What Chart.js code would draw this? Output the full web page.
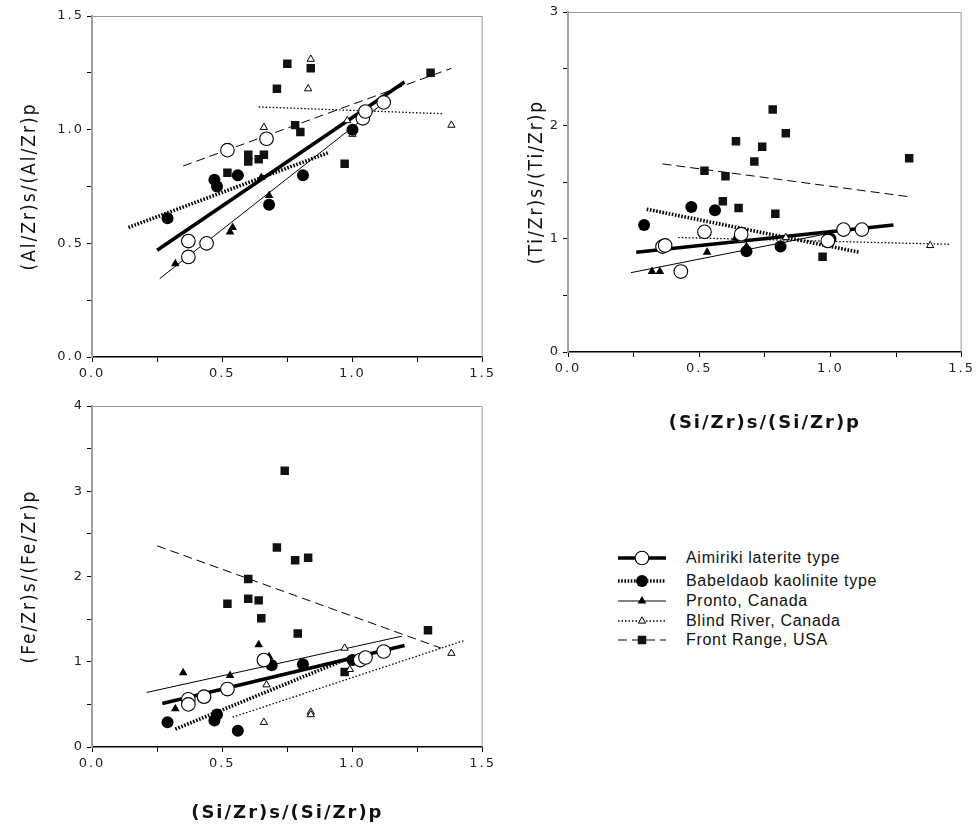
<!DOCTYPE html>
<html>
<head>
<meta charset="utf-8">
<script src="https://cdn.jsdelivr.net/npm/chart.js@4"></script>
<style>
  body { margin: 0; background: #fff; }
  #wrap { position: relative; width: 979px; height: 831px; overflow: hidden; }
  #wrap canvas { position: absolute; }
  #legend { position: absolute; left: 616px; top: 548px; font-family: "Liberation Sans", Arial, sans-serif;
            font-size: 16px; letter-spacing: 0.7px; color: #111; }
  #legend .row { position: absolute; left: 0; height: 20px; width: 300px; white-space: nowrap; }
  #legend svg { position: absolute; left: 0; top: 0; }
  #legend span { position: absolute; left: 70px; top: 1px; }
</style>
</head>
<body>
<div id="wrap">
  <canvas id="alChart" width="500" height="390" style="left:0;top:0"></canvas>
  <canvas id="tiChart" width="489" height="440" style="left:490px;top:0"></canvas>
  <canvas id="feChart" width="500" height="436" style="left:0;top:395px"></canvas>
  <div id="legend"></div>
</div>
<script>
// series, in legend order
const seriesNames = ["Aimiriki laterite type", "Babeldaob kaolinite type", "Pronto, Canada", "Blind River, Canada", "Front Range, USA"];

// (Al/Zr)s/(Al/Zr)p against (Si/Zr)s/(Si/Zr)p
const alAimiriki = [[0.52, 0.91], [0.67, 0.96], [0.37, 0.51], [0.44, 0.50], [0.37, 0.44], [1.04, 1.05], [1.05, 1.08], [1.12, 1.12]];
const alBabeldaob = [[0.29, 0.61], [0.47, 0.78], [0.48, 0.75], [0.56, 0.80], [0.68, 0.67], [0.81, 0.80], [1.00, 1.00]];
const alPronto = [[0.32, 0.41], [0.36, 0.44], [0.53, 0.55], [0.54, 0.57], [0.65, 0.79], [0.68, 0.71]];
const alBlind = [[0.84, 1.31], [0.83, 1.18], [0.66, 1.01], [0.98, 1.04], [1.00, 0.98], [1.38, 1.02]];
const alFront = [[0.75, 1.29], [0.84, 1.27], [0.71, 1.18], [0.78, 1.02], [0.80, 0.99], [0.60, 0.89], [0.60, 0.86],
                 [0.64, 0.87], [0.66, 0.89], [0.52, 0.81], [0.97, 0.85], [1.30, 1.25]];
// regression lines: [x0, y0, x1, y1] per series
const alFits = [[0.25, 0.47, 1.20, 1.21], [0.14, 0.57, 0.91, 0.90], [0.26, 0.345, 1.10, 1.10], [0.64, 1.10, 1.35, 1.07], [0.35, 0.84, 1.38, 1.27]];

// (Ti/Zr)s/(Ti/Zr)p
const tiAimiriki = [[0.36, 0.93], [0.37, 0.94], [0.43, 0.71], [0.52, 1.06], [0.66, 1.04], [0.99, 0.98], [1.05, 1.08], [1.12, 1.08]];
const tiBabeldaob = [[0.29, 1.12], [0.47, 1.28], [0.56, 1.25], [0.68, 0.89], [0.81, 0.93], [1.00, 1.00]];
const tiPronto = [[0.32, 0.71], [0.35, 0.71], [0.53, 0.88], [0.64, 1.01], [0.68, 0.93], [0.99, 1.02]];
const tiBlind = [[0.66, 0.99], [0.83, 1.01], [0.99, 0.95], [1.38, 0.94]];
const tiFront = [[0.78, 2.14], [0.83, 1.93], [0.64, 1.86], [0.74, 1.81], [0.71, 1.68], [0.52, 1.60], [0.60, 1.55],
                 [0.59, 1.33], [0.65, 1.27], [0.79, 1.22], [0.97, 0.84], [1.30, 1.71]];
const tiFits = [[0.26, 0.88, 1.24, 1.12], [0.30, 1.26, 1.11, 0.88], [0.24, 0.70, 0.98, 1.04], [0.42, 1.01, 1.46, 0.95], [0.36, 1.66, 1.30, 1.37]];

// (Fe/Zr)s/(Fe/Zr)p
const feAimiriki = [[0.37, 0.56], [0.37, 0.50], [0.43, 0.59], [0.52, 0.68], [0.66, 1.02], [1.03, 1.02], [1.05, 1.05], [1.12, 1.12]];
const feBabeldaob = [[0.29, 0.29], [0.48, 0.38], [0.47, 0.31], [0.56, 0.19], [0.69, 0.96], [0.81, 0.97], [1.00, 1.02]];
const fePronto = [[0.35, 0.87], [0.32, 0.45], [0.53, 0.84], [0.64, 1.20], [0.68, 1.06]];
const feBlind = [[0.97, 1.16], [1.38, 1.10], [0.67, 0.73], [0.99, 0.91], [0.66, 0.29], [0.84, 0.41], [0.84, 0.38]];
const feFront = [[0.74, 3.24], [0.71, 2.34], [0.78, 2.19], [0.83, 2.22], [0.60, 1.97], [0.52, 1.68], [0.60, 1.74],
                 [0.64, 1.72], [0.65, 1.51], [0.79, 1.33], [0.97, 0.88], [1.29, 1.37]];
const feFits = [[0.27, 0.51, 1.20, 1.19], [0.32, 0.21, 1.00, 1.06], [0.21, 0.64, 1.19, 1.30], [0.54, 0.35, 1.43, 1.25], [0.25, 2.36, 1.34, 1.16]];

// marker and line look of each series
const markers = [
  { pointStyle: "circle", radius: 6.8, fill: "#fff", border: 1.1 },
  { pointStyle: "circle", radius: 6, fill: "#000", border: 0 },
  { pointStyle: "triangle", radius: 5, fill: "#000", border: 0 },
  { pointStyle: "triangle", radius: 4.2, fill: "#fff", border: 1 },
  { pointStyle: "rect", radius: 6, fill: "#111", border: 0 }
];
const strokes = [
  { width: 3.6, dash: [] },
  { width: 3.6, dash: [1.6, 1.6] },
  { width: 1, dash: [] },
  { width: 1.3, dash: [1.5, 2] },
  { width: 1, dash: [9, 5] }
];

const FONT_TICK = { family: "'DejaVu Sans', sans-serif", size: 13 };
const FONT_YTITLE = { family: "'DejaVu Sans Condensed', 'Liberation Sans Narrow', sans-serif", size: 19 };
const FONT_XTITLE = { family: "'DejaVu Sans', sans-serif", size: 18, weight: "bold" };

// the print spaces its lettering out a little
const spacing = {
  id: "spacing",
  beforeLayout(chart) { chart.ctx.letterSpacing = "2px"; },
  beforeDraw(chart) { chart.ctx.letterSpacing = "2px"; }
};

// faint top and right edges of the plot box
const frame = {
  id: "frame",
  beforeDatasetsDraw(chart) {
    const { ctx, chartArea: a } = chart;
    ctx.save();
    ctx.strokeStyle = "#9a9a9a";
    ctx.lineWidth = 1;
    ctx.beginPath();
    ctx.moveTo(a.left, a.top + 0.5);
    ctx.lineTo(a.right - 0.5, a.top + 0.5);
    ctx.lineTo(a.right - 0.5, a.bottom);
    ctx.stroke();
    ctx.restore();
  }
};

function toXY(pairs) {
  return pairs.map(p => ({ x: p[0], y: p[1] }));
}

function buildDatasets(groups, fits) {
  const sets = [];
  fits.forEach((f, i) => {
    sets.push({
      label: seriesNames[i] + " fit",
      data: [{ x: f[0], y: f[1] }, { x: f[2], y: f[3] }],
      showLine: true,
      pointRadius: 0,
      borderColor: "#000",
      borderWidth: strokes[i].width,
      borderDash: strokes[i].dash,
      borderCapStyle: "butt",
      order: 2
    });
  });
  groups.forEach((g, i) => {
    const m = markers[i];
    sets.push({
      label: seriesNames[i],
      data: toXY(g),
      showLine: false,
      pointStyle: m.pointStyle,
      pointRadius: m.radius,
      pointBackgroundColor: m.fill,
      pointBorderColor: "#000",
      pointBorderWidth: m.border,
      order: 1
    });
  });
  return sets;
}

function makeChart(id, cfg) {
  const half = v => Math.abs(v * 2 - Math.round(v * 2)) < 1e-9;
  return new Chart(document.getElementById(id), {
    type: "scatter",
    data: { datasets: buildDatasets(cfg.groups, cfg.fits) },
    options: {
      responsive: false,
      animation: false,
      devicePixelRatio: 1,
      layout: { padding: cfg.padding },
      plugins: { legend: { display: false }, tooltip: { enabled: false } },
      scales: {
        x: {
          type: "linear",
          min: 0, max: 1.5,
          afterFit: s => { s.height = cfg.xHeight; },
          border: { color: "#000", width: 1.5 },
          grid: { drawOnChartArea: false, tickLength: 5, color: "#000", lineWidth: 1 },
          ticks: {
            stepSize: 0.25, padding: 4, color: "#222", font: FONT_TICK, maxRotation: 0, autoSkip: false,
            callback: v => half(v) ? v.toFixed(1) : ""
          },
          title: cfg.xTitle ? { display: true, text: cfg.xTitle, font: FONT_XTITLE, color: "#111", padding: { top: 0, bottom: cfg.xTitlePad } } : { display: false }
        },
        y: {
          type: "linear",
          min: 0, max: cfg.yMax,
          afterFit: s => { s.width = cfg.yWidth; },
          border: { color: "#a0a0a0", width: 2 },
          grid: { drawOnChartArea: false, tickLength: 5, color: "#000", lineWidth: 1 },
          ticks: {
            stepSize: cfg.yStep, padding: 3, color: "#222", font: FONT_TICK, autoSkip: false,
            callback: cfg.yLabel
          },
          title: { display: true, text: cfg.yTitle, font: FONT_YTITLE, color: "#111", padding: { top: cfg.yTitlePad, bottom: 0 } }
        }
      }
    },
    plugins: [spacing, frame]
  });
}

makeChart("alChart", {
  groups: [alAimiriki, alBabeldaob, alPronto, alBlind, alFront],
  fits: alFits,
  padding: { top: 16, right: 14, left: 0, bottom: 0 },
  xHeight: 33, yWidth: 92, yMax: 1.5, yStep: 0.25,
  yLabel: v => Math.abs(v * 2 - Math.round(v * 2)) < 1e-9 ? v.toFixed(1) : "",
  yTitle: "(Al/Zr)s/(Al/Zr)p", yTitlePad: 19
});

makeChart("tiChart", {
  groups: [tiAimiriki, tiBabeldaob, tiPronto, tiBlind, tiFront],
  fits: tiFits,
  padding: { top: 12, right: 16, left: 0, bottom: 0 },
  xHeight: 88, yWidth: 78, yMax: 3, yStep: 0.5,
  yLabel: v => Number.isInteger(v) ? String(v) : "",
  yTitle: "(Ti/Zr)s/(Ti/Zr)p", yTitlePad: 36,
  xTitle: "(Si/Zr)s/(Si/Zr)p", xTitlePad: 6
});

makeChart("feChart", {
  groups: [feAimiriki, feBabeldaob, fePronto, feBlind, feFront],
  fits: feFits,
  padding: { top: 11, right: 14, left: 0, bottom: 0 },
  xHeight: 84, yWidth: 92, yMax: 4, yStep: 0.5,
  yLabel: v => Number.isInteger(v) ? String(v) : "",
  yTitle: "(Fe/Zr)s/(Fe/Zr)p", yTitlePad: 19,
  xTitle: "(Si/Zr)s/(Si/Zr)p", xTitlePad: 7
});

// legend: line sample with marker, then the series name
const legend = document.getElementById("legend");
const rowTops = [0, 23, 43, 63, 82];
seriesNames.forEach((name, i) => {
  const m = markers[i], s = strokes[i];
  const row = document.createElement("div");
  row.className = "row";
  row.style.top = rowTops[i] + "px";
  let mark;
  if (m.pointStyle === "circle") {
    mark = `<circle cx="26" cy="10" r="${m.radius}" fill="${m.fill}" stroke="#000" stroke-width="${m.border || 0}"/>`;
  } else if (m.pointStyle === "triangle") {
    const r = m.radius;
    mark = `<polygon points="26,${10 - r} ${26 + r * 0.87},${10 + r * 0.5} ${26 - r * 0.87},${10 + r * 0.5}" fill="${m.fill}" stroke="#000" stroke-width="${m.border || 0}"/>`;
  } else {
    const h = m.radius * Math.SQRT1_2;
    mark = `<rect x="${26 - h}" y="${10 - h}" width="${2 * h}" height="${2 * h}" fill="${m.fill}"/>`;
  }
  row.innerHTML = `<svg width="56" height="20"><line x1="2" y1="10" x2="50" y2="10" stroke="#000" stroke-width="${s.width}" stroke-dasharray="${s.dash.join(" ") || "none"}"/>${mark}</svg><span>${name}</span>`;
  legend.appendChild(row);
});
</script>
</body>
</html>
